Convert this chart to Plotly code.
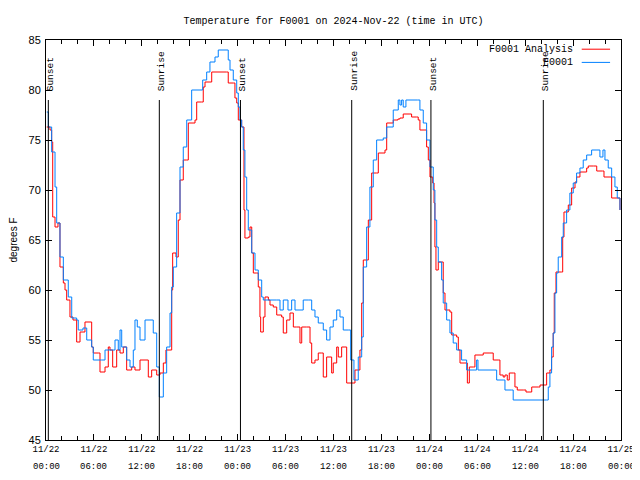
import pandas as pd
import plotly.graph_objects as go

# ---- data (hours after 2024-11-22 00:00 UTC, temperature in degrees F) ----
obs_hours = [0.09, 0.29, 0.71, 1.13, 1.34, 1.75, 2.17, 2.79, 3.22, 3.84, 4.04, 4.63, 5.10, 5.72, 5.92,
             6.97, 7.39, 8.23, 8.64, 9.05, 9.27, 9.48, 10.10, 10.52, 10.93, 11.14, 11.43, 11.77, 12.14,
             12.40, 13.02, 13.43, 13.86, 14.19, 14.69, 15.11, 15.53, 15.74, 15.94, 16.36, 16.78, 17.19,
             17.62, 18.24, 19.28, 19.62, 20.12, 20.53, 21.16, 21.57, 22.54, 22.82, 23.04, 23.45, 23.88,
             24.08, 24.29, 24.50, 24.70, 24.91, 25.13, 25.33, 25.76, 26.17, 26.58, 27.01, 27.21, 28.89,
             29.30, 29.71, 30.30, 30.76, 31.18, 31.80, 32.21, 32.84, 33.27, 33.68, 34.09, 34.72, 35.14,
             35.56, 35.97, 36.40, 36.81, 37.22, 37.85, 38.15, 38.56, 39.10, 39.53, 39.73, 40.15, 40.56,
             40.98, 41.40, 42.23, 42.66, 43.48, 44.11, 44.32, 44.53, 44.73, 45.07, 46.49, 46.82, 47.24,
             47.66, 48.08, 48.49, 48.70, 48.92, 49.12, 49.54, 49.74, 50.17, 50.58, 50.99, 51.42, 52.04,
             52.67, 53.71, 53.92, 54.09, 56.22, 56.43, 57.25, 57.47, 58.31, 58.50, 62.69, 62.89, 63.10,
             63.31, 63.51, 63.73, 63.94, 64.14, 64.57, 64.77, 65.19, 65.60, 66.02, 66.44, 66.86, 67.27,
             67.70, 68.32, 68.99, 69.36, 69.74, 69.99, 70.40, 70.83, 71.24, 71.53, 71.87]
obs_temp = [77.8, 76.3, 73.8, 70.3, 66.7, 63.3, 61.0, 59.3, 57.2, 57.0, 56.0, 56.2, 55.0, 54.3, 53.0,
            53.0, 54.0, 54.0, 55.0, 54.0, 56.0, 54.3, 53.0, 52.3, 54.0, 57.0, 56.3, 55.0, 55.0,
            57.0, 57.0, 55.7, 52.3, 49.3, 51.7, 54.3, 57.7, 60.3, 62.3, 67.7, 72.3, 74.3,
            77.0, 80.0, 80.0, 81.0, 81.8, 82.8, 83.3, 84.0, 84.0, 83.0, 82.0, 81.0, 79.7,
            78.3, 77.0, 76.3, 74.0, 71.3, 68.0, 66.0, 63.7, 62.0, 61.0, 59.3, 59.0, 59.0,
            58.0, 59.0, 58.0, 59.0, 58.0, 58.0, 59.0, 59.0, 58.0, 57.3, 56.7, 56.0, 55.0,
            56.3, 57.0, 58.0, 57.3, 56.0, 56.0, 53.0, 51.0, 53.3, 55.3, 62.3, 66.3, 70.3,
            73.0, 75.0, 75.2, 76.3, 78.0, 79.0, 78.5, 79.0, 78.3, 79.0, 79.0, 78.0, 76.7,
            75.0, 72.3, 70.0, 67.0, 64.3, 62.8, 61.0, 58.7, 57.0, 55.7, 54.7, 54.0, 53.0,
            52.0, 52.0, 53.0, 52.0, 52.0, 51.0, 51.0, 50.0, 50.0, 49.0, 49.0, 50.3, 51.7,
            54.3, 55.7, 59.7, 61.7, 63.3, 65.3, 66.7, 68.0, 69.7, 70.7, 71.7, 72.2, 73.0,
            73.5, 74.0, 74.0, 73.3, 74.0, 73.0, 72.2, 71.3, 70.3, 69.2, 68.0]

ana_hours = [0.09, 0.50, 0.71, 0.84, 1.13, 1.50, 1.75, 2.17, 2.38, 2.59, 3.00, 3.38, 3.84, 4.26, 4.63,
             4.88, 5.51, 5.72, 5.92, 6.55, 6.76, 7.39, 7.80, 8.01, 8.35, 8.85, 9.27, 9.68, 10.10, 10.73,
             11.14, 11.77, 12.40, 12.81, 13.23, 13.65, 13.86, 14.27, 14.69, 15.02, 15.53, 15.74, 15.86,
             16.28, 16.56, 16.78, 17.19, 17.62, 17.82, 18.66, 18.87, 19.49, 19.69, 19.91, 20.53, 20.75,
             22.62, 22.82, 23.45, 23.66, 23.88, 24.08, 24.50, 24.79, 24.91, 25.33, 25.54, 25.76, 25.96,
             26.38, 26.58, 26.79, 26.88, 27.21, 27.42, 27.84, 28.05, 28.46, 28.89, 29.51, 29.71, 30.14,
             30.55, 30.97, 31.39, 31.80, 32.02, 32.64, 33.06, 33.27, 33.68, 34.09, 34.52, 34.72, 35.14,
             35.56, 35.77, 35.97, 36.40, 36.60, 37.02, 37.43, 37.65, 38.27, 38.69, 39.31, 39.53, 39.73,
             40.15, 40.36, 40.78, 41.40, 41.61, 42.45, 42.66, 43.48, 44.07, 44.32, 44.73, 45.57, 45.78,
             46.41, 46.61, 46.82, 47.45, 47.66, 47.87, 48.08, 48.42, 48.59, 48.70, 48.83, 49.12, 49.54,
             49.74, 49.96, 50.58, 50.80, 51.42, 51.63, 51.84, 52.46, 52.76, 53.01, 53.51, 53.71, 54.75,
             55.59, 56.00, 56.63, 56.84, 57.25, 57.47, 57.76, 58.01, 58.51, 58.72, 59.01, 59.76, 60.10,
             60.60, 60.82, 61.64, 61.86, 62.48, 62.69, 63.10, 63.31, 63.51, 63.64, 63.86, 64.57, 64.70,
             64.86, 65.19, 65.40, 65.82, 66.24, 66.44, 66.86, 67.49, 67.70, 67.90, 68.53, 68.96, 69.70,
             69.87, 70.62, 70.83, 71.53, 71.87]
ana_temp = [76.3, 76.0, 74.8, 67.3, 66.3, 66.7, 62.3, 60.7, 60.0, 59.0, 57.3, 57.0, 54.8, 55.8, 55.8,
            56.8, 56.8, 54.3, 53.7, 53.7, 51.8, 52.3, 54.3, 54.0, 52.3, 54.0, 53.7, 54.3, 52.0, 52.3,
            52.0, 53.0, 53.0, 51.3, 52.0, 52.0, 51.5, 51.7, 52.7, 54.0, 54.0, 60.0, 63.7,
            63.3, 67.0, 71.0, 73.0, 73.0, 76.7, 77.0, 78.8, 78.8, 80.3, 80.8, 80.8, 81.8,
            81.8, 80.7, 80.7, 79.2, 78.7, 77.0, 76.3, 68.0, 65.2, 65.3, 66.3, 63.7, 61.7,
            61.7, 60.3, 57.3, 55.8, 57.3, 59.3, 59.0, 58.5, 58.3, 57.5, 57.3, 55.7, 57.0,
            57.7, 56.3, 56.3, 54.7, 56.3, 56.3, 54.7, 52.7, 53.0, 53.7, 53.7, 51.3, 53.3,
            53.3, 51.7, 52.7, 54.3, 53.3, 54.3, 54.3, 50.7, 50.7, 52.0, 54.0, 58.7, 63.0,
            63.0, 67.0, 71.7, 71.7, 73.7, 74.0, 76.7, 77.0, 77.1, 77.2, 77.6, 77.6, 77.3,
            77.3, 77.0, 76.0, 76.0, 74.3, 73.0, 71.3, 70.7, 68.7, 64.3, 62.0, 62.8, 62.8,
            59.7, 58.0, 57.8, 55.5, 55.3, 54.0, 52.7, 52.7, 50.7, 52.3, 52.3, 53.5, 53.7,
            53.7, 53.0, 53.0, 51.5, 51.3, 51.5, 51.0, 51.7, 51.7, 50.3, 50.0, 50.0, 49.8,
            49.8, 50.3, 50.3, 50.5, 50.5, 51.7, 52.0, 53.3, 55.7, 59.7, 61.8, 61.8, 65.3,
            67.8, 67.8, 68.5, 70.2, 70.8, 71.3, 71.8, 71.8, 72.2, 72.4, 72.4, 71.9, 71.9,
            71.3, 71.3, 69.2, 69.2, 68.0]

sunset_hours = [0.29, 24.35, 48.20]
sunrise_hours = [14.19, 38.28, 62.27]

title_text = "Temperature for F0001 on 2024-Nov-22 (time in UTC)"
y_label = "degrees F"
series_names = ["F0001 Analysis", "F0001"]
series_colors = ["#ff0000", "#0080ff"]

base = pd.Timestamp("2024-11-22 00:00")
to_time = lambda hrs: [base + pd.Timedelta(hours=h) for h in hrs]
end = base + pd.Timedelta(hours=72)

mono = "Liberation Mono"
sans = "Liberation Sans"

# the page body adds an 8px margin; figure size/margins compensate for it
W, H = 632, 472

fig = go.Figure()
fig.add_trace(go.Scatter(x=to_time(ana_hours), y=ana_temp, mode="lines", name=series_names[0],
                         line=dict(color=series_colors[0], width=1, shape="hv"), showlegend=False))
fig.add_trace(go.Scatter(x=to_time(obs_hours), y=obs_temp, mode="lines", name=series_names[1],
                         line=dict(color=series_colors[1], width=1, shape="hv"), showlegend=False))

# sunrise / sunset markers
events = [(h, "Sunset") for h in sunset_hours] + [(h, "Sunrise") for h in sunrise_hours]
for h, lab in events:
    t = base + pd.Timedelta(hours=h)
    fig.add_shape(type="line", xref="x", yref="y", x0=t, x1=t, y0=45, y1=79,
                  line=dict(color="black", width=1))
    fig.add_annotation(x=t, y=79.7, xref="x", yref="y", text=lab, textangle=-90,
                       showarrow=False, xanchor="center", yanchor="bottom", xshift=2,
                       font=dict(family=mono, size=9.5, color="black"))

# second line of x tick labels (hour)
for k in range(13):
    t = base + pd.Timedelta(hours=6 * k)
    fig.add_annotation(x=t, y=0, xref="x", yref="paper", text=t.strftime("%H:%M"),
                       showarrow=False, xanchor="center", yanchor="top", yshift=-20,
                       font=dict(family=mono, size=9, color="black"))

# legend (text on the left, sample line on the right)
leg_y = [0.977, 0.944]
for name, col, yy in zip(series_names, series_colors, leg_y):
    fig.add_annotation(x=0.92, y=yy, xref="paper", yref="paper", text=name, showarrow=False,
                       xanchor="right", yanchor="middle", font=dict(family=mono, size=10, color="black"))
    fig.add_shape(type="line", xref="paper", yref="paper", x0=0.9317, x1=0.981, y0=yy, y1=yy,
                  line=dict(color=col, width=1))

fig.update_layout(
    width=W, height=H,
    margin=dict(l=38, r=19, t=32, b=40, autoexpand=False),
    paper_bgcolor="white", plot_bgcolor="white",
    title=dict(text=title_text, x=0.5, xref="paper", y=1 - 12 / H, yref="container",
               xanchor="center", yanchor="middle", font=dict(family=mono, size=10, color="black")),
    showlegend=False,
)
fig.update_xaxes(
    type="date", range=[base, end], tickmode="linear", tick0=base, dtick=6 * 3600 * 1000,
    tickformat="%m/%d", ticks="inside", ticklen=6, tickcolor="black", ticklabeloverflow="allow",
    minor=dict(dtick=2 * 3600 * 1000, ticks="inside", ticklen=4, tickcolor="black"),
    showline=True, linecolor="black", linewidth=1, mirror="ticks", showgrid=False, zeroline=False,
    tickfont=dict(family=mono, size=9, color="black"), automargin=False,
)
fig.update_yaxes(
    range=[45, 85], tickmode="linear", tick0=45, dtick=5, ticks="inside", ticklen=6, tickcolor="black",
    showline=True, linecolor="black", linewidth=1, mirror="ticks", showgrid=False, zeroline=False,
    tickfont=dict(family=sans, size=11, color="black"), automargin=False, ticklabelstandoff=2,
    title=dict(text=y_label, font=dict(family=sans, size=10, color="black"), standoff=15),
)

fig.write_html("out.html")
